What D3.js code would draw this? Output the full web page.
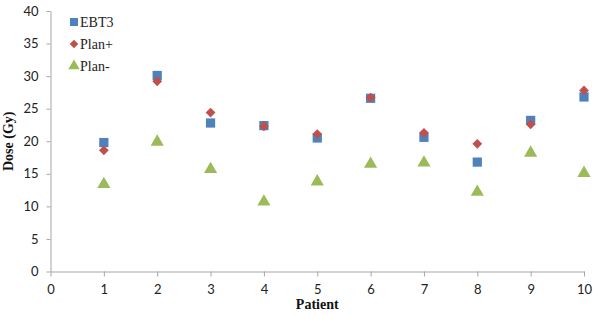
<!DOCTYPE html>
<html lang="en">
<head>
<meta charset="UTF-8">
<title>Dose per patient</title>
<script src="https://d3js.org/d3.v7.min.js"></script>
<style>
    body { margin: 0; background: #fff; }
    .tick text { font-family: Lato, "Open Sans", sans-serif; font-size: 13px; fill: #222; }
    .axis path, .axis line { stroke: #a6a6a6; }
    .title { font-family: "Liberation Serif", serif; font-weight: bold; font-size: 14px; fill: #111; }
    .legend text { font-family: "Liberation Serif", serif; font-size: 14px; fill: #222; }
</style>
</head>
<body>
<svg width="595" height="316"></svg>
<script>
    const patients = [1, 2, 3, 4, 5, 6, 7, 8, 9, 10];
    const ebt3 = [19.8, 30.1, 22.8, 22.4, 20.5, 26.6, 20.6, 16.8, 23.2, 26.8];
    const planPlus = [18.6, 29.2, 24.4, 22.3, 21.1, 26.7, 21.3, 19.6, 22.6, 27.8];
    const planMinus = [13.4, 19.9, 15.7, 10.7, 13.8, 16.5, 16.7, 12.2, 18.2, 15.1];
    const xTicks = d3.range(0, 11);
    const yTicks = d3.range(0, 41, 5);

    const svg = d3.select('svg');
    const x = d3.scaleLinear().domain([0, 10]).range([50.5, 584]);
    const y = d3.scaleLinear().domain([0, 40]).range([271.5, 11]);

    svg.append('g').attr('class', 'axis')
        .attr('transform', 'translate(0,' + y(0) + ')')
        .call(d3.axisBottom(x).tickValues(xTicks).tickSize(5).tickPadding(8).tickSizeOuter(0));
    svg.append('g').attr('class', 'axis')
        .attr('transform', 'translate(' + x(0) + ',0)')
        .call(d3.axisLeft(y).tickValues(yTicks).tickSize(4).tickPadding(8).tickSizeOuter(0));

    const series = [
        {name: 'EBT3', values: ebt3, color: '#4f81bd', shape: d3.symbolSquare, size: 85, rot: 0},
        {name: 'Plan+', values: planPlus, color: '#c0504d', shape: d3.symbolSquare, size: 48, rot: 45},
        {name: 'Plan-', values: planMinus, color: '#9bbb59', shape: d3.symbolTriangle, size: 75, rot: 0}
    ];

    series.forEach(function (s) {
        svg.append('g').selectAll('path')
            .data(s.values)
            .join('path')
            .attr('transform', function (d, i) {
                return 'translate(' + x(patients[i]) + ',' + y(d) + ') rotate(' + s.rot + ')';
            })
            .attr('d', d3.symbol().type(s.shape).size(s.size))
            .attr('fill', s.color);
    });

    // legend
    let lg = svg.append('g').attr('class', 'legend');
    series.forEach(function (s, i) {
        let yy = 22 + i * 22;
        lg.append('path')
            .attr('transform', 'translate(74,' + yy + ') rotate(' + s.rot + ')')
            .attr('d', d3.symbol().type(s.shape).size(s.size * 0.75))
            .attr('fill', s.color);
        lg.append('text').attr('x', 80).attr('y', yy + 5).text(s.name);
    });

    svg.append('text').attr('class', 'title')
        .attr('x', (x(0) + x(10)) / 2).attr('y', 309)
        .attr('text-anchor', 'middle').text('Patient');
    svg.append('text').attr('class', 'title')
        .attr('transform', 'translate(13,' + y(20) + ') rotate(-90)')
        .attr('text-anchor', 'middle').text('Dose (Gy)');
</script>
</body>
</html>
